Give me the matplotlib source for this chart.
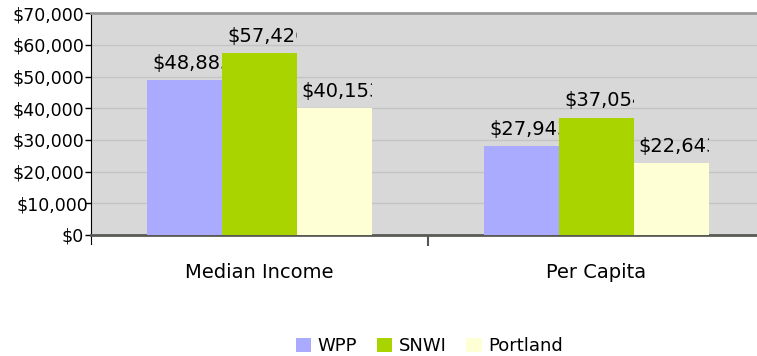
import matplotlib
matplotlib.use("Agg")
import matplotlib.pyplot as plt
from matplotlib.patches import Patch
from matplotlib.ticker import FuncFormatter, MultipleLocator
from matplotlib.transforms import Bbox, TransformedBbox, ScaledTranslation
import numpy as np

# income figures by area
categories = ["Median Income", "Per Capita"]
series_names = ["WPP", "SNWI", "Portland"]
wpp = [48885, 27943]
snwi = [57426, 37054]
portland = [40153, 22643]
colors = ["#aaaaff", "#aad400", "#ffffd5"]

plt.rcParams["font.family"] = "DejaVu Sans"

fig = plt.figure(figsize=(7.57, 3.56), dpi=100)
ax = fig.add_axes([0.1202, 0.34, 0.8904, 0.6227])
ax.set_facecolor("#d8d8d8")

x = np.arange(len(categories))
width = 0.222
values = [wpp, snwi, portland]

bars = []
for i, (vals, col) in enumerate(zip(values, colors)):
    offs = (i - 1) * width
    b = ax.bar(x + offs, vals, width, color=col, zorder=3, linewidth=0)
    bars.append(b)

# value labels, cut off at the sides of their own bar
for b_group in bars:
    for rect in b_group:
        left = rect.get_x()
        top = rect.get_height()
        t = ax.annotate(f"${top:,.0f}", xy=(left, top), xytext=(3.5, 12),
                        textcoords="offset points", ha="left", va="center",
                        fontsize=14, zorder=4)
        box = Bbox([[left, -1e5], [left + rect.get_width(), 1e6]])
        t.set_clip_box(TransformedBbox(box, ax.transData))
        t.set_clip_on(True)

ax.set_xlim(-0.5, 1.5)
ax.set_ylim(0, 70000)
ax.yaxis.set_major_locator(MultipleLocator(10000))
ax.yaxis.set_major_formatter(FuncFormatter(lambda v, p: f"${v:,.0f}"))
ax.grid(axis="y", color="#c4c4c4", linewidth=1, zorder=0)
ax.set_axisbelow(True)

ax.set_xticks([0.5])
ax.set_xticklabels([])
ax.tick_params(axis="x", length=8, width=1.5, color="#555555")
ax.tick_params(axis="y", length=4, width=1, color="black", pad=1, labelsize=12.5)
for c, label in zip(x, categories):
    ax.text(c, -0.17, label, transform=ax.get_xaxis_transform(), ha="center",
            va="center", fontsize=14)

# the $10,000 label sits a little to the right of the others
fig.canvas.draw()
for lbl in ax.get_yticklabels():
    if lbl.get_text() == "$10,000":
        lbl.set_transform(lbl.get_transform() +
                          ScaledTranslation(4 / 100, 0, fig.dpi_scale_trans))

ax.spines["left"].set_color("black")
ax.spines["left"].set_bounds(-3000, 70000)
ax.spines["left"].set_clip_on(False)
ax.spines["bottom"].set_color("#5a5a55")
ax.spines["bottom"].set_linewidth(2)
ax.spines["top"].set_color("#999999")
ax.spines["top"].set_linewidth(2)
ax.spines["right"].set_visible(False)

handles = [Patch(facecolor=c, edgecolor="none") for c in colors]
fig.legend(handles, series_names, loc="center", bbox_to_anchor=(0.567, 0.028),
           ncol=3, frameon=False, fontsize=13, handlelength=0.85, handleheight=0.85,
           handletextpad=0.35, columnspacing=1.1)

fig.savefig("out.png", dpi=100)
